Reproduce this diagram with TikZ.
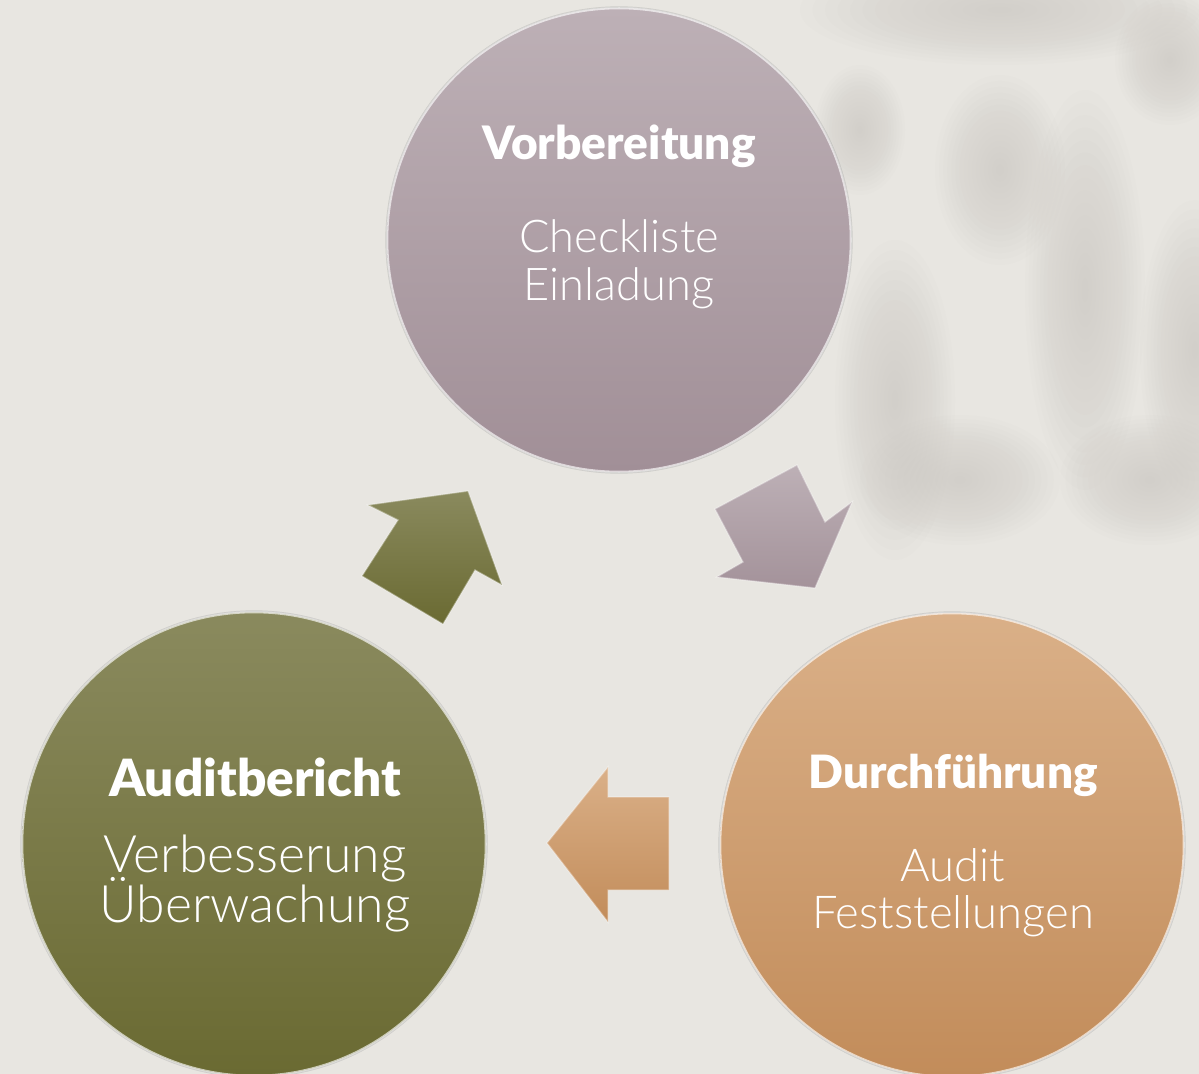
\documentclass[tikz,border=0pt]{standalone}
\usepackage{fontspec}
\setmainfont{Lato}
\newfontfamily\headfont{Lato Black}
\newfontfamily\bodyfont{Lato Light}
\definecolor{bg}{HTML}{E8E6E1}
\definecolor{blob}{HTML}{C6C2BC}
\definecolor{prepTop}{HTML}{BDB0B6}
\definecolor{prepBot}{HTML}{A18F97}
\definecolor{execTop}{HTML}{DAB088}
\definecolor{execBot}{HTML}{C28C5A}
\definecolor{repTop}{HTML}{8A8A5E}
\definecolor{repBot}{HTML}{6A6A32}
\begin{document}
\begin{tikzpicture}[x=0.02cm,y=-0.02cm,
  ball/.style={circle, minimum size=9.28cm, inner sep=0pt, draw=white, draw opacity=0.65, line width=1.4pt},
  rim/.style={draw=black, draw opacity=0.12, line width=0.8pt},
  headtxt/.style={text=white, anchor=base, font=\headfont},
  bodytxt/.style={text=white, anchor=base, font=\bodyfont, align=center},
  blockarrow/.style={draw=white, draw opacity=0.35, line width=0.8pt, line join=miter}]
  % canvas
  \useasboundingbox (0,0) rectangle (1199,1074);
  \clip (0,0) rectangle (1199,1074);
  \fill[bg] (0,0) rectangle (1199,1074);
  % blurred foliage in the upper right: stacked translucent ellipses
  \foreach \cx/\cy/\rx/\ry in {1000/10/200/55, 895/400/60/160, 1085/290/60/200,
      1195/350/55/150, 960/480/100/65, 1150/480/90/65, 1000/170/65/95, 1170/60/55/65, 860/130/45/65}{
    \foreach \k in {1,...,16}{
      \fill[blob, fill opacity=0.045] (\cx,\cy) ellipse[x radius=\rx*0.02cm*\k/16, y radius=\ry*0.02cm*\k/16];
    }
  }
  % three stages
  \node[ball, top color=prepTop, bottom color=prepBot] (prep) at (619,240) {};
  \node[ball, top color=execTop, bottom color=execBot] (exec) at (952,845) {};
  \node[ball, top color=repTop, bottom color=repBot] (rep) at (254,844) {};
  \foreach \n in {prep,exec,rep}{
    \draw[rim] (\n.center) circle[radius=4.66cm];
  }
  % block arrows between the stages
  \shade[top color=prepTop, bottom color=prepBot!90!prepTop, blockarrow]
    (715,509) -- (797,465) -- (825,522) -- (852,502) -- (815,588) -- (717,577) -- (743,562) -- cycle;
  \shade[top color=execTop, bottom color=execBot, blockarrow]
    (547,843) -- (608,767) -- (608,797) -- (669,797) -- (669,890) -- (608,890) -- (608,922) -- cycle;
  \shade[top color=repTop, bottom color=repBot, blockarrow]
    (362,576) -- (398,520) -- (368,505) -- (468,491) -- (502,585) -- (475,570) -- (443,624) -- cycle;
  % labels
  \node[headtxt, font=\headfont\fontsize{26.2}{30}\selectfont] (prepT) at (619,160) {Vorbereitung};
  \node[bodytxt, font=\bodyfont\fontsize{25.7}{30}\selectfont] (prepA) at (619,253) {Checkliste};
  \node[bodytxt, font=\bodyfont\fontsize{25.7}{30}\selectfont] (prepB) at (619,300) {Einladung};
  \node[headtxt, font=\headfont\fontsize{26.1}{30}\selectfont] (execT) at (953,788) {Durchführung};
  \node[bodytxt, font=\bodyfont\fontsize{25.8}{30}\selectfont] (execA) at (953,881) {Audit};
  \node[bodytxt, font=\bodyfont\fontsize{25.8}{30}\selectfont] (execB) at (953,928) {Feststellungen};
  \node[headtxt, font=\headfont\fontsize{29.2}{33}\selectfont] (repT) at (255,796) {Auditbericht};
  \node[bodytxt, font=\bodyfont\fontsize{29.4}{33}\selectfont] (repA) at (255,872) {Verbesserung};
  \node[bodytxt, font=\bodyfont\fontsize{29.4}{33}\selectfont] (repB) at (255,922) {Überwachung};
\end{tikzpicture}
\end{document}
